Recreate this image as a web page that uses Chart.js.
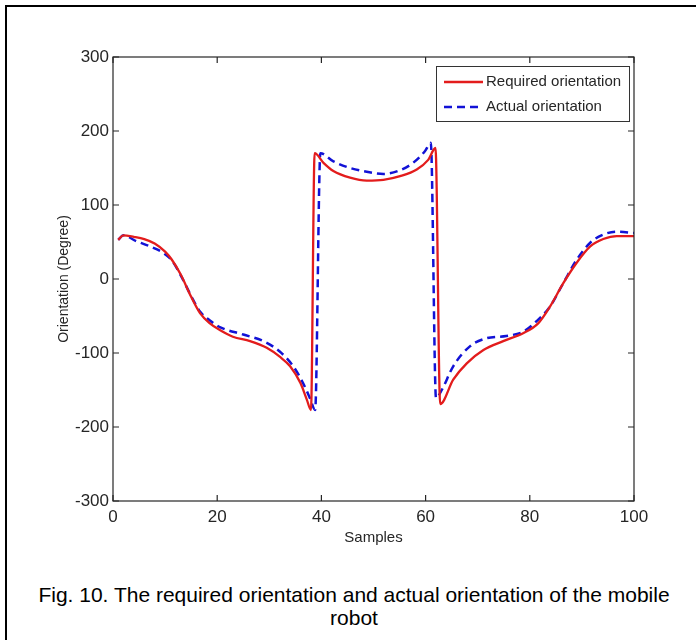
<!DOCTYPE html>
<html style="overflow:hidden;background:#fff">
<head>
<meta charset="utf-8">
<script src="https://cdn.jsdelivr.net/npm/chart.js@4/dist/chart.umd.min.js"></script>
<style>
  body{ margin:0; width:696px; height:640px; overflow:hidden; background:#fff; position:relative; }
  #frame{ position:absolute; left:5px; top:5px; width:691px; height:635px; border-left:2px solid #000; border-top:2px solid #000; box-sizing:border-box; }
  #plot{ position:absolute; left:0; top:0; }
  #caption{ position:absolute; left:6px; top:583px; width:696px; text-align:center;
    font-family:'Liberation Sans', Arial, sans-serif; font-size:21px; line-height:23px; color:#000; white-space:nowrap; }
</style>
</head>
<body>
<div id="frame"></div>
<canvas id="plot" width="696" height="560"></canvas>
<div id="caption">Fig. 10. The required orientation and actual orientation of the mobile<br>robot</div>
<script>
// values
const reqX = [1, 2, 4, 6, 8, 10, 11.3, 13, 15, 16.7, 18.6, 20.5, 23, 26.3, 29.5, 32, 34, 36, 37.2, 38,
  38.7, 40.4, 42.3, 45.5, 48.7, 51.9, 55.1, 58.3, 60.5, 61.9,
  62.8, 65.3, 67.9, 71.1, 74.9, 78.8, 81.6, 83.9, 86.4, 89, 91.6, 94.1, 96.7, 100];
const reqY = [53, 59, 57, 54, 48, 37, 26, 6, -24, -46, -60, -69, -78, -84, -93, -105, -118, -141, -163, -177,
  170, 157, 146, 137, 133, 134, 139, 148, 161, 177,
  -169, -136, -114, -96, -84, -73, -60, -37, -6, 22, 44, 54, 58, 58];

const actX = [1, 2, 4.5, 7.1, 9.7, 11.3, 13, 15, 16.7, 18.6, 20.5, 25, 28.9, 32, 34.6, 36.5, 37.8, 38.8,
  39.8, 42.3, 45.5, 48.7, 51.9, 55.1, 57.6, 59.9, 61,
  62, 63.1, 65.3, 68.5, 71.7, 75.5, 78.8, 81.3, 83.9, 86.4, 89, 91.6, 94.1, 96.7, 100];
const actY = [53, 59, 51, 44, 35, 25, 5, -23, -44, -56, -65, -75, -84, -98, -118, -141, -161, -177,
  170, 159, 150, 145, 142, 147, 157, 173, 184,
  -161, -150, -118, -91, -80, -77, -71, -57, -37, -6, 26, 49, 60, 64, 62];

const seriesNames = ['Required orientation', 'Actual orientation'];
const xTicks = [0, 20, 40, 60, 80, 100];
const yTicks = [-300, -200, -100, 0, 100, 200, 300];

const FONT = "'Liberation Sans', Arial, sans-serif";
const AXIS = '#262626';

function pts(xs, ys){ return xs.map((x, i) => ({ x: x, y: ys[i] })); }

// box round the plot with inward ticks on every side, like matlab
const boxTicks = {
  id: 'boxTicks',
  afterDatasetsDraw(chart){
    const { ctx, chartArea: a, scales: { x, y } } = chart;
    const len = 6;
    ctx.save();
    ctx.strokeStyle = AXIS;
    ctx.lineWidth = 1.2;
    ctx.strokeRect(a.left, a.top, a.right - a.left, a.bottom - a.top);
    ctx.beginPath();
    xTicks.forEach(v => {
      const px = x.getPixelForValue(v);
      ctx.moveTo(px, a.bottom); ctx.lineTo(px, a.bottom - len);
      ctx.moveTo(px, a.top); ctx.lineTo(px, a.top + len);
    });
    yTicks.forEach(v => {
      const py = y.getPixelForValue(v);
      ctx.moveTo(a.left, py); ctx.lineTo(a.left + len, py);
      ctx.moveTo(a.right, py); ctx.lineTo(a.right - len, py);
    });
    ctx.stroke();
    ctx.restore();
  }
};

// legend inside the top right corner
const boxLegend = {
  id: 'boxLegend',
  afterDraw(chart){
    const { ctx, chartArea: a } = chart;
    const w = 193, h = 55;
    const left = a.right - 5 - w, top = a.top + 9;
    ctx.save();
    ctx.fillStyle = '#fff';
    ctx.fillRect(left, top, w, h);
    ctx.strokeStyle = '#333';
    ctx.lineWidth = 1;
    ctx.strokeRect(left + 0.5, top + 0.5, w, h);
    ctx.font = '15px ' + FONT;
    ctx.textBaseline = 'middle';
    chart.data.datasets.forEach((ds, i) => {
      const cy = top + 16 + i * 25;
      ctx.strokeStyle = ds.borderColor;
      ctx.lineWidth = ds.borderWidth;
      ctx.setLineDash(ds.borderDash || []);
      ctx.beginPath();
      ctx.moveTo(left + 8, cy); ctx.lineTo(left + 47, cy);
      ctx.stroke();
      ctx.setLineDash([]);
      ctx.fillStyle = AXIS;
      ctx.fillText(ds.label, left + 50, cy);
    });
    ctx.restore();
  }
};

new Chart(document.getElementById('plot'), {
  type: 'line',
  data: {
    datasets: [
      { label: seriesNames[0], data: pts(reqX, reqY), borderColor: '#e31c1c', borderWidth: 2.3,
        pointRadius: 0, cubicInterpolationMode: 'monotone', fill: false },
      { label: seriesNames[1], data: pts(actX, actY), borderColor: '#1212d6', borderWidth: 2.5,
        borderDash: [8, 5], pointRadius: 0, cubicInterpolationMode: 'monotone', fill: false }
    ]
  },
  options: {
    responsive: false,
    animation: false,
    events: [],
    layout: { padding: { top: 57, right: 62, left: 0, bottom: 0 } },
    plugins: { legend: { display: false }, tooltip: { enabled: false } },
    scales: {
      x: {
        type: 'linear', min: 0, max: 100,
        afterBuildTicks: s => { s.ticks = xTicks.map(v => ({ value: v })); },
        afterFit: s => { s.height = 59; },
        grid: { display: false, drawTicks: false },
        border: { display: false },
        ticks: { padding: 6, color: AXIS, font: { family: FONT, size: 17 }, maxRotation: 0 },
        title: { display: true, text: 'Samples', color: AXIS, font: { family: FONT, size: 15 },
          padding: { top: 0, bottom: 13 } }
      },
      y: {
        min: -300, max: 300,
        afterBuildTicks: s => { s.ticks = yTicks.map(v => ({ value: v })); },
        afterFit: s => { s.width = 113; },
        grid: { display: false, drawTicks: false },
        border: { display: false },
        ticks: { padding: 4, color: AXIS, font: { family: FONT, size: 17 } },
        title: { display: true, text: 'Orientation (Degree)', color: AXIS, font: { family: FONT, size: 14 },
          padding: { top: 56, bottom: 0 } }
      }
    }
  },
  plugins: [boxTicks, boxLegend]
});
</script>
</body>
</html>
